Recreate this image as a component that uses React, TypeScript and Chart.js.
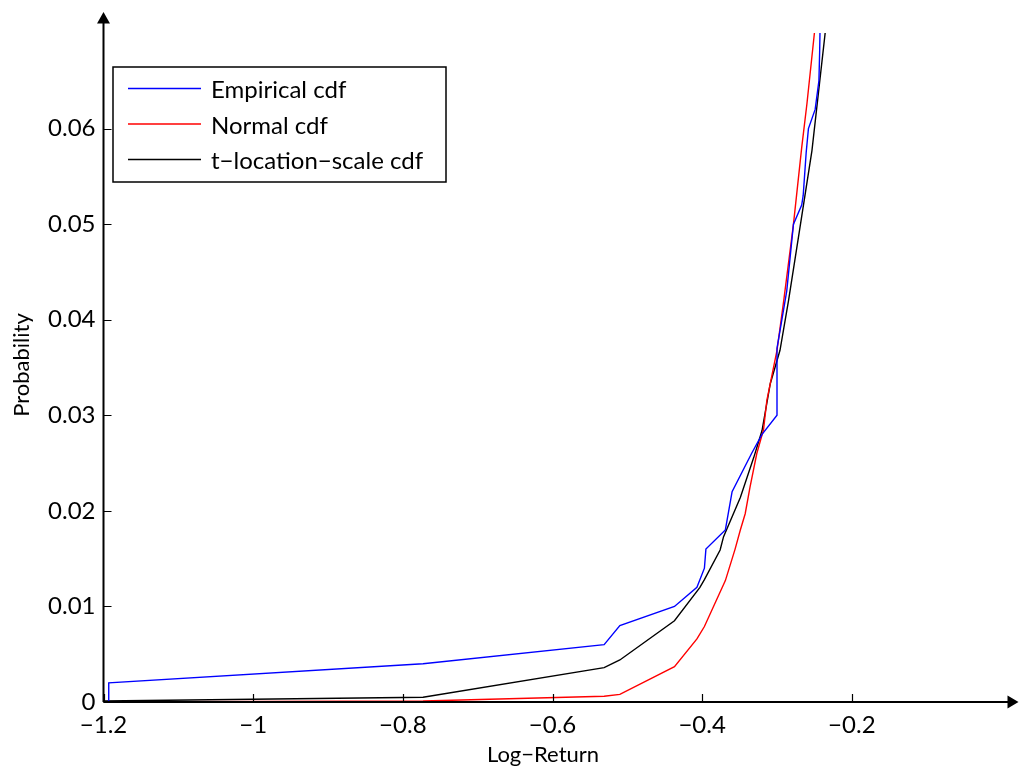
import React, { useEffect, useRef } from "react";
import { Chart, registerables } from "chart.js";

Chart.register(...registerables);

// ---- data ----
const empiricalX = [-1.193, -1.193, -0.773, -0.531, -0.51, -0.437, -0.407, -0.397, -0.395, -0.369, -0.36, -0.334, -0.32, -0.3, -0.3, -0.287, -0.278, -0.267, -0.265, -0.261, -0.258, -0.249, -0.244, -0.243, -0.2415];
const empiricalY = [0, 0.002, 0.004, 0.006, 0.008, 0.01, 0.012, 0.014, 0.016, 0.018, 0.022, 0.026, 0.028, 0.03, 0.037, 0.043, 0.05, 0.052, 0.053, 0.0575, 0.06, 0.062, 0.065, 0.068, 0.075];

const normalX = [-1.2, -0.773, -0.531, -0.51, -0.437, -0.407, -0.397, -0.369, -0.356, -0.349, -0.3425, -0.336, -0.327, -0.318, -0.3135, -0.3, -0.291, -0.278, -0.267, -0.26, -0.25, -0.2435];
const normalY = [0, 0.0001, 0.0006, 0.0008, 0.0037, 0.0066, 0.0079, 0.0127, 0.016, 0.018, 0.0197, 0.0225, 0.026, 0.0285, 0.0316, 0.0368, 0.042, 0.05, 0.058, 0.0626, 0.07, 0.075];

const tlsX = [-1.2, -0.773, -0.531, -0.51, -0.437, -0.403, -0.397, -0.376, -0.3714, -0.349, -0.331, -0.32, -0.309, -0.296, -0.2846, -0.2686, -0.2533, -0.2355, -0.2285];
const tlsY = [0.0001, 0.0005, 0.0036, 0.0044, 0.0085, 0.012, 0.0128, 0.0159, 0.0173, 0.0214, 0.0256, 0.0284, 0.0333, 0.0368, 0.042, 0.05, 0.0577, 0.0701, 0.075];

const seriesLabels = ["Empirical cdf", "Normal cdf", "t\u2212location\u2212scale cdf"];
const seriesColors = ["#0000ff", "#ff0000", "#000000"];

const xTickValues = [-1.2, -1, -0.8, -0.6, -0.4, -0.2];
const xTickLabels = ["\u22121.2", "\u22121", "\u22120.8", "\u22120.6", "\u22120.4", "\u22120.2"];
const yTickValues = [0, 0.01, 0.02, 0.03, 0.04, 0.05, 0.06];
const yTickLabels = ["0", "0.01", "0.02", "0.03", "0.04", "0.05", "0.06"];

const xTitle = "Log\u2212Return";
const yTitle = "Probability";

const FONT = "Lato, 'Open Sans', sans-serif";

const toPoints = (xs: number[], ys: number[]) => xs.map((x, i) => ({ x, y: ys[i] }));

const axesPlugin = {
  id: "matlabAxes",
  afterDraw(chart: any) {
    const { ctx, chartArea: ca, scales } = chart;
    const xs = scales.x;
    const ys = scales.y;
    ctx.save();
    ctx.strokeStyle = "#000";
    ctx.fillStyle = "#000";

    // axis lines
    ctx.lineWidth = 2;
    ctx.beginPath();
    ctx.moveTo(ca.left, ca.bottom);
    ctx.lineTo(ca.right + 8, ca.bottom);
    ctx.moveTo(ca.left, ca.bottom);
    ctx.lineTo(ca.left, ca.top - 12);
    ctx.stroke();

    // arrow heads
    ctx.beginPath();
    ctx.moveTo(ca.right + 17, ca.bottom);
    ctx.lineTo(ca.right + 6, ca.bottom - 6.5);
    ctx.lineTo(ca.right + 6, ca.bottom + 6.5);
    ctx.closePath();
    ctx.fill();
    ctx.beginPath();
    ctx.moveTo(ca.left, ca.top - 21);
    ctx.lineTo(ca.left - 6.5, ca.top - 9.5);
    ctx.lineTo(ca.left + 6.5, ca.top - 9.5);
    ctx.closePath();
    ctx.fill();

    // inward ticks
    ctx.lineWidth = 1.2;
    ctx.beginPath();
    xTickValues.forEach((v) => {
      const px = Math.round(xs.getPixelForValue(v)) + 0.5;
      ctx.moveTo(px, ca.bottom);
      ctx.lineTo(px, ca.bottom - 8);
    });
    yTickValues.forEach((v) => {
      const py = Math.round(ys.getPixelForValue(v)) + 0.5;
      ctx.moveTo(ca.left, py);
      ctx.lineTo(ca.left + 8, py);
    });
    ctx.stroke();

    // legend
    const lx = ca.left + 9.5;
    const ly = ca.top + 34;
    ctx.fillStyle = "#fff";
    ctx.fillRect(lx, ly, 333, 115);
    ctx.lineWidth = 1.5;
    ctx.strokeStyle = "#000";
    ctx.strokeRect(lx, ly, 333, 115);
    const rowY = [ly + 21.5, ly + 57, ly + 92.5];
    ctx.font = `24px ${FONT}`;
    ctx.textBaseline = "middle";
    ctx.textAlign = "left";
    seriesLabels.forEach((label, i) => {
      ctx.strokeStyle = seriesColors[i];
      ctx.lineWidth = 1.3;
      ctx.beginPath();
      ctx.moveTo(lx + 15, rowY[i]);
      ctx.lineTo(lx + 88, rowY[i]);
      ctx.stroke();
      ctx.fillStyle = "#000";
      ctx.fillText(label, lx + 98, rowY[i] + 2);
    });

    // axis titles
    ctx.fillStyle = "#000";
    ctx.font = `22px ${FONT}`;
    ctx.textAlign = "center";
    ctx.textBaseline = "middle";
    ctx.fillText(xTitle, 543, 755);
    ctx.translate(22, 365);
    ctx.rotate(-Math.PI / 2);
    ctx.fillText(yTitle, 0, 0);
    ctx.restore();
  },
};

export default function App() {
  const ref = useRef<HTMLCanvasElement | null>(null);

  useEffect(() => {
    if (!ref.current) return;
    const chart = new Chart(ref.current, {
      type: "scatter",
      data: {
        datasets: [
          { label: seriesLabels[0], data: toPoints(empiricalX, empiricalY), borderColor: seriesColors[0] },
          { label: seriesLabels[1], data: toPoints(normalX, normalY), borderColor: seriesColors[1] },
          { label: seriesLabels[2], data: toPoints(tlsX, tlsY), borderColor: seriesColors[2] },
        ].map((d) => ({
          ...d,
          showLine: true,
          pointRadius: 0,
          borderWidth: 1.4,
          tension: 0,
          fill: false,
          backgroundColor: d.borderColor,
        })),
      },
      options: {
        responsive: false,
        animation: false,
        events: [],
        layout: { padding: { top: 33, right: 17.5, left: 0, bottom: 0 } },
        plugins: { legend: { display: false }, tooltip: { enabled: false }, title: { display: false } },
        scales: {
          x: {
            type: "linear",
            min: -1.2,
            max: 0,
            grid: { display: false, drawTicks: false },
            border: { display: false },
            afterBuildTicks: (scale: any) => {
              scale.ticks = xTickValues.map((v) => ({ value: v }));
            },
            afterFit: (scale: any) => {
              scale.height = 65;
            },
            ticks: {
              autoSkip: false,
              maxRotation: 0,
              padding: 9,
              color: "#000",
              font: { family: FONT, size: 24 },
              callback: (_v: any, i: number) => xTickLabels[i],
            },
          },
          y: {
            type: "linear",
            min: 0,
            max: 0.07,
            grid: { display: false, drawTicks: false },
            border: { display: false },
            afterBuildTicks: (scale: any) => {
              scale.ticks = yTickValues.map((v) => ({ value: v }));
            },
            afterFit: (scale: any) => {
              scale.width = 103.5;
            },
            ticks: {
              autoSkip: false,
              padding: 8,
              color: "#000",
              font: { family: FONT, size: 24 },
              callback: (_v: any, i: number) => yTickLabels[i],
            },
          },
        },
      },
      plugins: [axesPlugin],
    });
    return () => chart.destroy();
  }, []);

  return (
    <div style={{ position: "absolute", left: 0, top: 0, width: 1019, height: 767, background: "#fff" }}>
      <canvas ref={ref} width={1019} height={767} style={{ display: "block" }} />
    </div>
  );
}
